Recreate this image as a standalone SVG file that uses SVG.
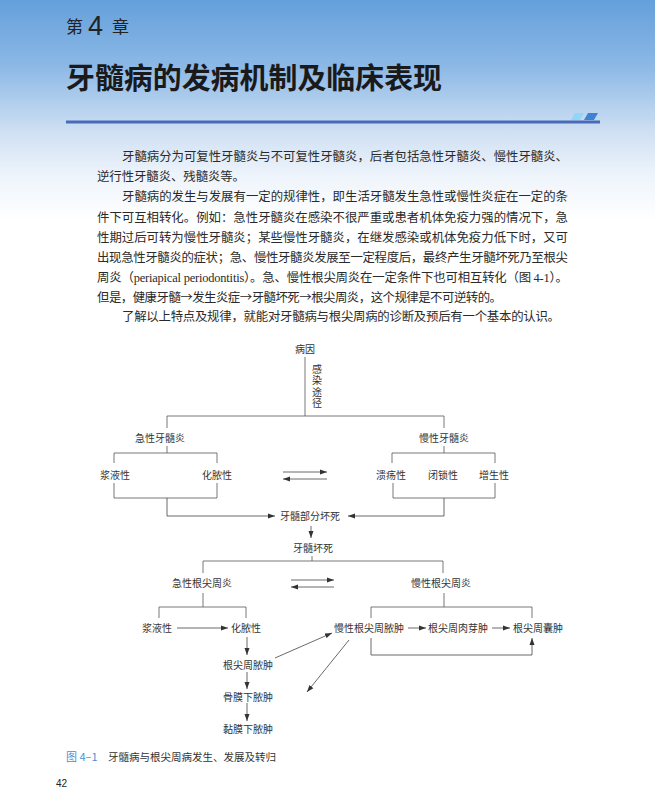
<svg xmlns="http://www.w3.org/2000/svg" width="655" height="809" viewBox="0 0 655 809">
<defs>
<linearGradient id="bg" x1="0" y1="0" x2="0" y2="1">
<stop offset="0" stop-color="#64a0db"/>
<stop offset="0.3" stop-color="#8cb8e6"/>
<stop offset="0.6" stop-color="#cfe0f3"/>
<stop offset="0.8" stop-color="#eef4fb"/>
<stop offset="1" stop-color="#ffffff"/>
</linearGradient>
<marker id="ah" markerUnits="userSpaceOnUse" markerWidth="8" markerHeight="6" refX="7" refY="3" orient="auto">
<path d="M0,0.5 L7,3 L0,5.5 z" fill="#333"/>
</marker>
<style>
.p{font-family:"Noto Sans CJK SC","Noto Sans",sans-serif;font-size:12.4px;fill:#2a2a2a}
.d{font-family:"Noto Sans CJK SC","Noto Sans",sans-serif;font-size:10px;fill:#333;text-anchor:middle}
.ln{stroke:#555;stroke-width:0.8;fill:none}
.ar{stroke:#444;stroke-width:0.8;fill:none;marker-end:url(#ah)}
.lat{font-family:"Liberation Serif",serif}
</style>
</defs>
<rect x="0" y="0" width="655" height="220" fill="url(#bg)"/>
<rect x="0" y="220" width="655" height="589" fill="#ffffff"/>

<g id="header">
<text x="66" y="33" font-family="Noto Sans CJK SC,sans-serif" font-size="17" fill="#222">第</text>
<text x="88" y="35" font-family="Liberation Sans,sans-serif" font-size="27" fill="#222">4</text>
<text x="112" y="33" font-family="Noto Sans CJK SC,sans-serif" font-size="17" fill="#222">章</text>
<text x="66" y="89" font-family="Noto Sans CJK SC,sans-serif" font-size="29" font-weight="bold" fill="#1a1a1a" textLength="376" lengthAdjust="spacingAndGlyphs">牙髓病的发病机制及临床表现</text>
<rect x="66" y="120.5" width="534" height="3" fill="#4a6cb8"/>
<polygon points="575,113 584,113 580,120 571,120" fill="#93d5f5"/>
<polygon points="588,113 598,113 594,120 584,120" fill="#3f82d2"/>
</g>

<g id="paragraphs">
<text class="p" x="122" y="160.5" textLength="446" lengthAdjust="spacing">牙髓病分为可复性牙髓炎与不可复性牙髓炎，后者包括急性牙髓炎、慢性牙髓炎、</text>
<text class="p" x="97" y="180.5" textLength="148" lengthAdjust="spacing">逆行性牙髓炎、残髓炎等。</text>
<text class="p" x="122" y="200.5" textLength="446" lengthAdjust="spacing">牙髓病的发生与发展有一定的规律性，即生活牙髓发生急性或慢性炎症在一定的条</text>
<text class="p" x="97" y="221.5" textLength="471" lengthAdjust="spacing">件下可互相转化。例如：急性牙髓炎在感染不很严重或患者机体免疫力强的情况下，急</text>
<text class="p" x="97" y="241.5" textLength="471" lengthAdjust="spacing">性期过后可转为慢性牙髓炎；某些慢性牙髓炎，在继发感染或机体免疫力低下时，又可</text>
<text class="p" x="97" y="261.5" textLength="471" lengthAdjust="spacing">出现急性牙髓炎的症状；急、慢性牙髓炎发展至一定程度后，最终产生牙髓坏死乃至根尖</text>
<text class="p" x="97" y="281.5" textLength="471" lengthAdjust="spacing">周炎（<tspan class="lat">periapical periodontitis</tspan>）。急、慢性根尖周炎在一定条件下也可相互转化（图 <tspan class="lat">4-1</tspan>）。</text>
<text class="p" x="97" y="301.5" textLength="405" lengthAdjust="spacing">但是，健康牙髓→发生炎症→牙髓坏死→根尖周炎，这个规律是不可逆转的。</text>
<text class="p" x="122" y="320.5" textLength="438" lengthAdjust="spacing">了解以上特点及规律，就能对牙髓病与根尖周病的诊断及预后有一个基本的认识。</text>
</g>

<g id="connectors">
<path class="ln" d="M305,357 V416"/>
<path class="ln" d="M167,428 V416 H444 V428"/>
<path class="ln" d="M167,446 V453"/>
<path class="ln" d="M114,463 V453 H217 V463"/>
<path class="ln" d="M444,446 V453"/>
<path class="ln" d="M392,463 V453 H495 V463"/>
<path class="ln" d="M114,483 V498 H217 V483"/>
<path class="ar" d="M167,498 V516 H275"/>
<path class="ln" d="M393,483 V498 H495 V483"/>
<path class="ar" d="M444,498 V516 H348"/>
<path class="ar" d="M283,472 H327"/>
<path class="ar" d="M327,479 H283"/>
<path class="ar" d="M311,526 V538"/>
<path class="ln" d="M312,556 V561"/>
<path class="ln" d="M203,573 V561 H443 V573"/>
<path class="ar" d="M291,580 H334"/>
<path class="ar" d="M334,587 H291"/>
<path class="ln" d="M203,593 V607"/>
<path class="ln" d="M159,618 V607 H246 V618"/>
<path class="ln" d="M444,593 V607"/>
<path class="ln" d="M371,618 V607 H532 V618"/>
<path class="ar" d="M177,628 H228"/>
<path class="ar" d="M408,628 H426"/>
<path class="ar" d="M492,628 H510"/>
<path class="ar" d="M371,638 V655 H532 V638"/>
<path class="ar" d="M247,637 V655"/>
<path class="ar" d="M247,672 V689"/>
<path class="ar" d="M247,703 V721"/>
<path class="ar" d="M275,658 L332,633"/>
<path class="ar" d="M349,640 L307,692"/>
</g>

<g id="n-bingyin"><text class="d" x="305" y="352.5">病因</text></g>
<g id="n-ganran"><text x="317" y="364" font-family="Noto Sans CJK SC,sans-serif" font-size="10" fill="#333" style="writing-mode:vertical-rl;letter-spacing:1.5px">感染途径</text></g>
<g id="n-jixingyasuiyan"><text class="d" x="160" y="441.5">急性牙髓炎</text></g>
<g id="n-manxingyasuiyan"><text class="d" x="444" y="441.5">慢性牙髓炎</text></g>
<g id="n-jiangye1"><text class="d" x="115" y="478.5">浆液性</text></g>
<g id="n-huanong1"><text class="d" x="217" y="478.5">化脓性</text></g>
<g id="n-kuiyang"><text class="d" x="391" y="478.5">溃疡性</text></g>
<g id="n-bisuo"><text class="d" x="443" y="478.5">闭锁性</text></g>
<g id="n-zengsheng"><text class="d" x="494" y="478.5">增生性</text></g>
<g id="n-bufenhuaisi"><text class="d" x="310" y="519.5">牙髓部分坏死</text></g>
<g id="n-huaisi"><text class="d" x="313" y="551.5">牙髓坏死</text></g>
<g id="n-jixinggenjian"><text class="d" x="202" y="586.5">急性根尖周炎</text></g>
<g id="n-manxinggenjian"><text class="d" x="441" y="586.5">慢性根尖周炎</text></g>
<g id="n-jiangye2"><text class="d" x="157" y="631.5">浆液性</text></g>
<g id="n-huanong2"><text class="d" x="246" y="631.5">化脓性</text></g>
<g id="n-mxnongzhong"><text class="d" x="369" y="631.5">慢性根尖周脓肿</text></g>
<g id="n-rouyazhong"><text class="d" x="458" y="631.5">根尖周肉芽肿</text></g>
<g id="n-nangzhong"><text class="d" x="538" y="631.5">根尖周囊肿</text></g>
<g id="n-genjiannongzhong"><text class="d" x="248" y="668.5">根尖周脓肿</text></g>
<g id="n-gumo"><text class="d" x="248" y="700.5">骨膜下脓肿</text></g>
<g id="n-nianmo"><text class="d" x="248" y="732.5">黏膜下脓肿</text></g>

<g id="caption">
<text x="66" y="761" font-family="Noto Sans CJK SC,Liberation Sans,sans-serif" font-size="11" fill="#4a8fd6">图 4–1</text>
<text x="108" y="761" font-family="Noto Sans CJK SC,sans-serif" font-size="10.5" fill="#333">牙髓病与根尖周病发生、发展及转归</text>
<text x="56" y="787" font-family="Liberation Sans,sans-serif" font-size="10" fill="#222">42</text>
</g>
</svg>
